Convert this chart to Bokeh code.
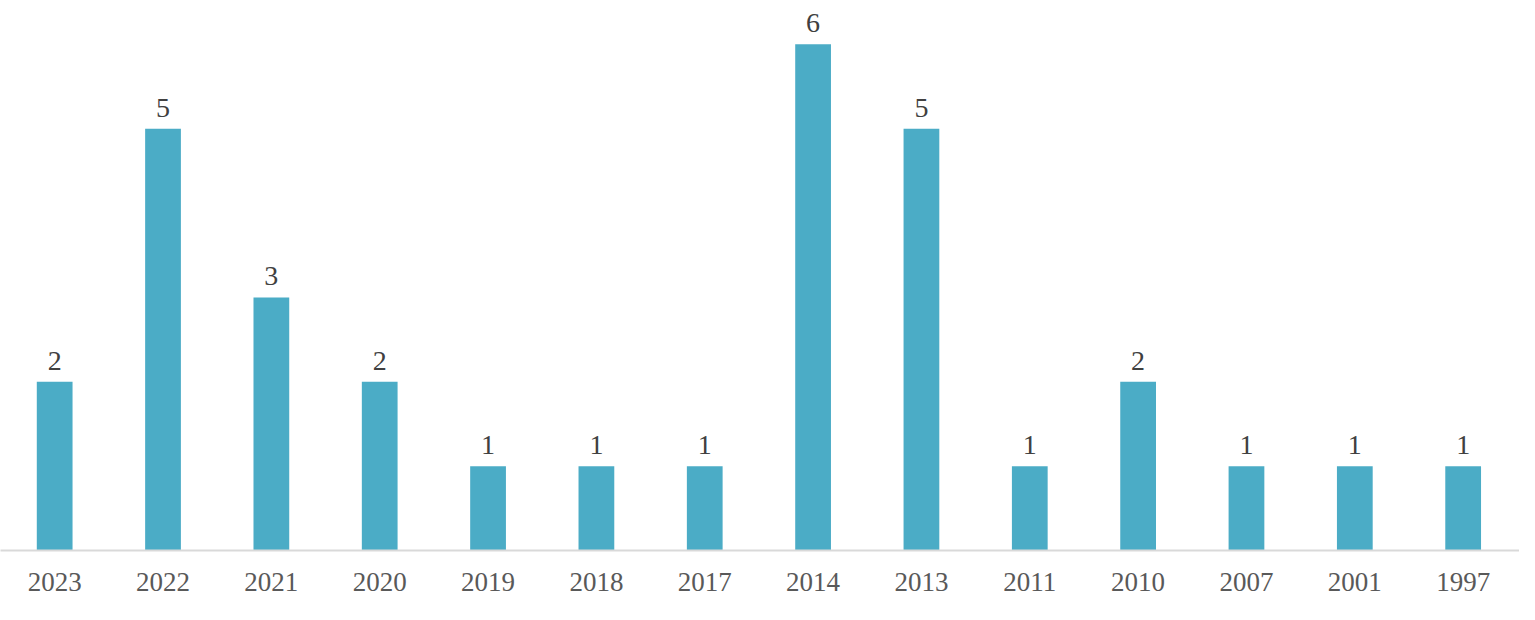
from bokeh.plotting import figure
from bokeh.models import Range1d, FixedTicker, ColumnDataSource
from bokeh.core.properties import value
from bokeh.embed import file_html
from bokeh.resources import INLINE

years = ["2023", "2022", "2021", "2020", "2019", "2018", "2017", "2014",
         "2013", "2011", "2010", "2007", "2001", "1997"]
counts = [2, 5, 3, 2, 1, 1, 1, 6, 5, 1, 2, 1, 1, 1]

idx = list(range(len(years)))
src = ColumnDataSource(dict(x=idx, top=counts, label=[str(c) for c in counts]))

p = figure(width=1519, height=604, output_backend="svg", toolbar_location=None,
           x_range=Range1d(-0.50, 13.52), y_range=Range1d(0, 6.52),
           y_axis_location=None, min_border_left=0, min_border_right=0,
           min_border_top=0, min_border_bottom=54)
p.outline_line_color = None
p.grid.visible = False
p.background_fill_color = "white"
p.border_fill_color = "white"

p.vbar(x="x", top="top", width=0.33, bottom=0, source=src,
       fill_color="#4BACC6", line_color=None)

p.text(x="x", y="top", text="label", source=src,
       text_align="center", text_baseline="alphabetic", y_offset=-21,
       text_font=value("Liberation Serif"), text_font_size="28px",
       text_color="#404040")

ax = p.xaxis[0]
ax.ticker = FixedTicker(ticks=idx)
ax.major_label_overrides = {i: y for i, y in zip(idx, years)}
ax.axis_line_color = "#d9d9d9"
ax.axis_line_width = 2
ax.major_tick_line_color = None
ax.minor_tick_line_color = None
ax.major_tick_out = 0
ax.major_tick_in = 0
ax.major_label_standoff = 22
ax.major_label_text_font = "Liberation Serif"
ax.major_label_text_font_size = "27px"
ax.major_label_text_color = "#595959"

open("out.html", "w").write(file_html(p, INLINE))
